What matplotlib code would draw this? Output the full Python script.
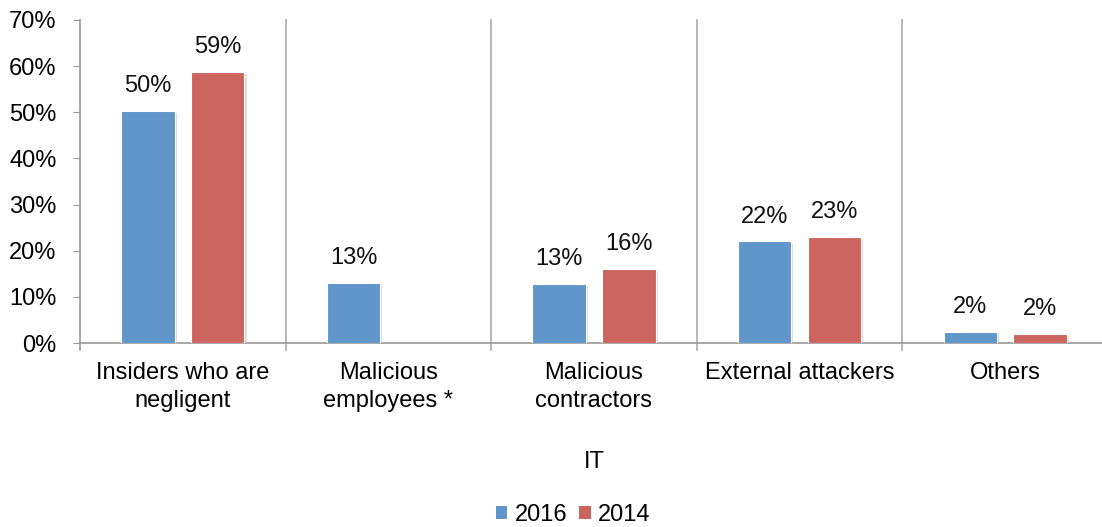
import matplotlib
matplotlib.use("Agg")
import matplotlib.pyplot as plt
import numpy as np
from matplotlib import patheffects as pe

categories = ["Insiders who are\nnegligent", "Malicious\nemployees *", "Malicious\ncontractors",
              "External attackers", "Others"]
series_names = ["2016", "2014"]
values_2016 = [50.2, 13.1, 12.8, 22.0, 2.4]
values_2014 = [58.8, np.nan, 16.0, 23.0, 2.0]
labels_2016 = ["50%", "13%", "13%", "22%", "2%"]
labels_2014 = ["59%", "", "16%", "23%", "2%"]
colors = ["#6096CA", "#CC6560"]

plt.rcParams['font.family'] = ['Liberation Sans', 'DejaVu Sans']
FS = 17

fig = plt.figure(figsize=(11.02, 5.27), dpi=100)
ax = fig.add_axes([80/1102, 1 - 343/527, 1028/1102, 323/527])

x = np.arange(len(categories))
w = 0.26
off = 0.17
shadow = [pe.SimplePatchShadow(offset=(1.5, -1.5), shadow_rgbFace="#bbbbbb", alpha=0.5), pe.Normal()]
for vals, labs, sgn, c, name in [(values_2016, labels_2016, -1, colors[0], series_names[0]),
                                 (values_2014, labels_2014, 1, colors[1], series_names[1])]:
    bars = ax.bar(x + sgn * off, vals, w, color=c, label=name, edgecolor="white", linewidth=0.8,
                  zorder=3)
    for b in bars:
        b.set_path_effects(shadow)
    for xi, v, l in zip(x + sgn * off, vals, labs):
        if l:
            ax.text(xi, v + 5.4, l, ha="center", va="center", fontsize=FS, color="#111111")

ax.set_xlim(-0.5, len(categories) - 0.5)
ax.set_ylim(0, 70)
ax.set_yticks(np.arange(0, 71, 10))
ax.set_yticklabels([f"{v}%" for v in range(0, 71, 10)], fontsize=FS)
ax.set_xticks(x)
ax.set_xticklabels(categories, fontsize=FS, linespacing=1.3)
ax.tick_params(axis="x", length=0, pad=14)
ax.tick_params(axis="y", length=5, color="#999999", direction="out", pad=12)

for s in ["top", "right"]:
    ax.spines[s].set_visible(False)
for s in ["left", "bottom"]:
    ax.spines[s].set_color("#999999")
    ax.spines[s].set_linewidth(1.2)

for b in np.arange(0.5, len(categories) - 0.5, 1.0):
    ax.plot([b, b], [-1.5, 70], color="#aaaaaa", lw=1.2, clip_on=False, zorder=1)
ax.plot([-0.5, -0.5], [-1.5, 0], color="#999999", lw=1.2, clip_on=False)

fig.text((80 + 1028/2) / 1102, 1 - 462/527, "IT", ha="center", va="center", fontsize=FS)
leg = fig.legend(loc="center", bbox_to_anchor=(573 / 1102, 1 - 515/527), ncol=2,
                 frameon=False, fontsize=FS, handlelength=0.5, handleheight=0.5,
                 handletextpad=0.3, columnspacing=0.5)
for h in leg.legend_handles:
    h.set_path_effects([])
    h.set_edgecolor("none")

fig.savefig("out.png", dpi=100)
